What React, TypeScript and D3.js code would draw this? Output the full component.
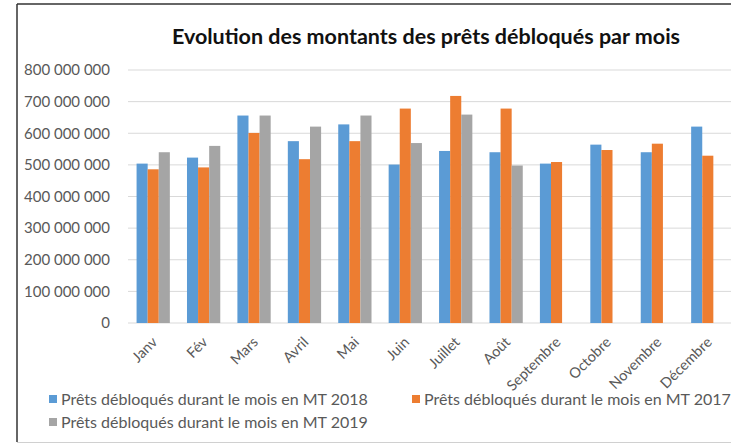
import React, { useRef, useEffect } from 'react';
import * as d3 from 'd3';

const months = ['Janv', 'Fév', 'Mars', 'Avril', 'Mai', 'Juin', 'Juillet', 'Août', 'Septembre', 'Octobre', 'Novembre', 'Décembre'];
const series = ['Prêts débloqués durant le mois en MT 2018', 'Prêts débloqués durant le mois en MT 2017', 'Prêts débloqués durant le mois en MT 2019'];
const values2018 = [504e6, 523e6, 656e6, 575e6, 628e6, 501e6, 544e6, 540e6, 504e6, 564e6, 540e6, 621e6];
const values2017 = [486e6, 492e6, 601e6, 518e6, 575e6, 678e6, 718e6, 678e6, 509e6, 547e6, 567e6, 529e6];
const values2019 = [540e6, 560e6, 656e6, 621e6, 656e6, 569e6, 659e6, 498e6, null, null, null, null];
const yTicks = [0, 100e6, 200e6, 300e6, 400e6, 500e6, 600e6, 700e6, 800e6];
const colors = ['#5B9BD5', '#ED7D31', '#A5A5A5'];

const font = 'Lato, "Open Sans", sans-serif';

function Chart() {
  const svgRef = useRef<SVGSVGElement>(null);

  useEffect(() => {
    document.body.style.margin = '0';
    const svg = d3.select(svgRef.current);
    svg.selectAll('*').remove();

    const width = 731;
    const height = 444;
    const margin = { left: 128, right: -2, top: 70, bottom: 121 };

    svg.append('rect').attr('width', width).attr('height', height).attr('fill', '#fff');
    // frame
    svg.append('line').attr('x1', 17).attr('x2', width).attr('y1', 4).attr('y2', 4).attr('stroke', '#333').attr('stroke-width', 1.5);
    svg.append('line').attr('x1', 17).attr('x2', 17).attr('y1', 4).attr('y2', 442).attr('stroke', '#333').attr('stroke-width', 1.5);
    svg.append('line').attr('x1', 17).attr('x2', width).attr('y1', 442.5).attr('y2', 442.5).attr('stroke', '#d0d0d0').attr('stroke-width', 1);

    const x = d3.scaleBand().domain(months).range([margin.left, width - margin.right]).paddingInner(0.34).paddingOuter(0.17);
    const xs = d3.scaleBand().domain(['0', '1', '2']).range([0, x.bandwidth()]);
    const y = d3.scaleLinear().domain([0, 800e6]).range([height - margin.bottom, margin.top]);

    const fmt = (v: number) => d3.format(',')(v).replace(/,/g, ' ');

    svg.append('g').selectAll('line').data(yTicks).join('line')
      .attr('x1', margin.left).attr('x2', width)
      .attr('y1', d => y(d)).attr('y2', d => y(d))
      .attr('stroke', '#d9d9d9').attr('stroke-width', 1);

    svg.append('g').selectAll('text').data(yTicks).join('text')
      .attr('x', 110).attr('y', d => y(d)).attr('dy', '0.35em')
      .attr('text-anchor', 'end').attr('font-family', font).attr('font-size', 15)
      .attr('fill', '#595959').text(d => fmt(d));

    const all = [values2018, values2017, values2019];
    all.forEach((vals, si) => {
      svg.append('g').selectAll('rect')
        .data(months.map((m, i) => ({ m, v: vals[i] })).filter(d => d.v != null))
        .join('rect')
        .attr('x', d => (x(d.m) as number) + (xs(String(si)) as number))
        .attr('y', d => y(d.v as number))
        .attr('width', xs.bandwidth())
        .attr('height', d => y(0) - y(d.v as number))
        .attr('fill', colors[si]);
    });

    svg.append('g').selectAll('text').data(months).join('text')
      .attr('transform', d => `translate(${(x(d) as number) + x.bandwidth() / 2 + 5},${y(0) + 20}) rotate(-45)`)
      .attr('text-anchor', 'end').attr('font-family', font).attr('font-size', 14.5)
      .attr('fill', '#595959').text(d => d);

    svg.append('text')
      .attr('x', 426).attr('y', 44).attr('text-anchor', 'middle')
      .attr('font-family', font).attr('font-weight', 'bold').attr('font-size', 21.5)
      .attr('fill', '#111').text('Evolution des montants des prêts débloqués par mois');

    const legendPos = [[49, 399], [412, 399], [49, 422]];
    series.forEach((s, i) => {
      const [lx, ly] = legendPos[i];
      const g = svg.append('g').attr('transform', `translate(${lx},${ly})`);
      g.append('rect').attr('x', 0).attr('y', -4).attr('width', 8).attr('height', 8).attr('fill', colors[i]);
      g.append('text').attr('x', 12).attr('y', 0).attr('dy', '0.35em')
        .attr('font-family', font).attr('font-size', 16).attr('fill', '#595959').text(s);
    });
  }, []);

  return <svg ref={svgRef} width={731} height={444} style={{ display: 'block' }}></svg>;
}

export default function App() {
  return <Chart />;
}
